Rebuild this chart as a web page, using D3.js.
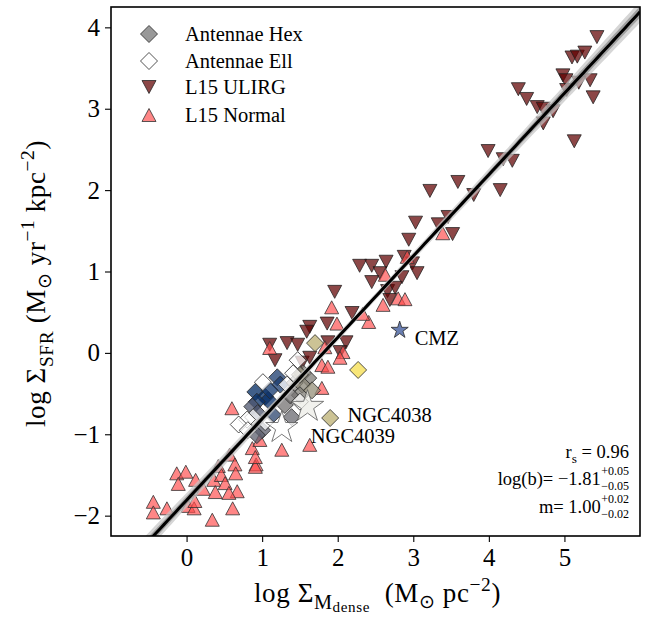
<!DOCTYPE html>
<html>
<head>
<meta charset="utf-8">
<script src="https://cdn.jsdelivr.net/npm/d3@7"></script>
<style>
  body { margin: 0; background: #fff; }
  svg { display: block; }
  text { font-family: "Liberation Serif", "Times New Roman", serif; fill: #000; white-space: pre; }
</style>
</head>
<body>
<svg id="chart" width="657" height="618"></svg>
<script>
// ---- data: [log Σ_Mdense, log Σ_SFR] ----
const ulirg = [
  [5.43,3.88],[5.10,3.63],[5.17,3.64],[5.27,3.69],[4.98,3.41],[5.02,3.35],[5.19,3.32],[5.34,3.35],
  [5.03,3.23],[5.38,3.14],[4.39,3.24],[4.50,3.12],[4.64,3.02],[4.72,3.00],[4.85,2.97],[4.72,2.82],
  [5.13,2.60],[3.99,2.48],[4.19,2.38],[4.31,2.36],[3.59,2.10],[3.22,1.99],[3.80,1.94],[4.15,2.00],
  [3.03,1.60],[3.33,1.58],[3.46,1.67],[3.52,1.46],[2.94,1.39],[2.29,1.07],[2.45,1.07],[2.64,1.12],
  [2.88,1.18],[2.99,1.10],[3.05,0.98],[2.56,0.98],[2.45,0.87],[2.85,0.93],[2.66,0.76],[2.76,0.80],
  [2.69,0.65],[1.96,0.75],[2.19,0.49],[1.86,0.36],[1.63,0.32],[1.59,0.26],[1.87,0.13],[2.11,0.13],
  [2.03,0.01],[1.10,0.10],[1.33,0.12],[1.47,0.10],[1.17,-0.09],[1.53,-0.12],[1.63,-0.06]
];
const normal = [
  [-0.13,-1.48],[-0.01,-1.46],[-0.11,-1.61],[0.12,-1.56],[-0.44,-1.83],[-0.44,-1.96],[-0.26,-1.91],
  [0.02,-1.88],[0.10,-1.91],[0.11,-1.82],[0.22,-1.67],[0.34,-2.05],[0.36,-1.56],[0.42,-1.39],
  [0.46,-1.50],[0.51,-1.60],[0.38,-1.71],[0.57,-1.25],[0.64,-1.37],[0.65,-1.48],[0.67,-1.70],
  [0.56,-1.72],[0.61,-1.91],[0.87,-1.17],[0.92,-1.37],[0.91,-1.40],[1.26,-1.19],[0.97,-1.07],
  [0.91,-1.28],[1.63,-1.13],[0.60,-0.68],[1.79,-0.43],[1.10,0.06],[1.83,0.07],[2.07,0.01],
  [2.03,-0.06],[1.79,-0.15],[1.87,-0.17],[1.99,0.36],[2.41,0.38],[2.33,0.48],[1.92,0.56],
  [2.60,0.59],[2.80,0.67],[2.89,0.66],[2.63,0.96],[2.92,1.18],[3.39,1.47]
];
// Antennae hexagonal apertures: [x, y, colour value]
const antHex = [
  [0.91,-0.48,0.05],[1.04,-0.54,0.05],[1.08,-0.58,0.08],[0.93,-0.60,0.10],[1.20,-0.30,0.15],
  [1.24,-0.39,0.15],[1.14,-0.76,0.20],[1.10,-0.46,0.12],[0.87,-0.66,0.30],[0.94,-0.74,0.30],
  [1.00,-0.95,0.35],[0.93,-1.01,0.35],[1.43,-0.37,0.50],[1.54,-0.25,0.50],[1.61,-0.31,0.50],
  [1.53,-0.39,0.55],[1.50,-0.52,0.50],[1.39,-0.79,0.40],[1.30,-0.64,0.45],[1.66,-0.46,0.60],
  [1.37,-0.52,0.45],[1.50,-0.27,0.60],[1.70,0.12,0.75],[1.90,-0.80,0.75],[2.27,-0.21,0.95]
];
const antEll = [
  [1.47,-0.09],[1.01,-0.36],[0.88,-0.79],[0.80,-0.82],[0.69,-0.88],
  [0.81,-0.95],[1.04,-0.85],[1.50,-0.60],[1.33,-0.39],[1.41,-0.25]
];
const starNames = ["CMZ", "NGC4038", "NGC4039"];
const starX = [2.82, 1.60, 1.26];
const starY = [0.28, -0.66, -0.92];

const fitSlope = 1.00, fitSlopeErr = 0.02;
const fitIntercept = -1.81, fitInterceptErr = 0.05;
const spearman = 0.96;

const xTicks = [0, 1, 2, 3, 4, 5];
const yTicks = [-2, -1, 0, 1, 2, 3, 4];
const legendLabels = ["Antennae Hex", "Antennae Ell", "L15 ULIRG", "L15 Normal"];

// ---- layout ----
const svg = d3.select("#chart");
const L = 111, R = 640, T = 7, B = 536;
const x = d3.scaleLinear().domain([-1, 6]).range([L, R]);
const y = d3.scaleLinear().domain([-2.25, 4.25]).range([B, T]);

svg.append("defs").append("clipPath").attr("id", "plotclip")
  .append("rect").attr("x", L).attr("y", T).attr("width", R - L).attr("height", B - T);
const plot = svg.append("g").attr("clip-path", "url(#plotclip)");

// marker paths
const tri = (w, h, up) => up
  ? `M0,${-h/2}L${w/2},${h/2}L${-w/2},${h/2}Z`
  : `M0,${h/2}L${w/2},${-h/2}L${-w/2},${-h/2}Z`;
const diamond = r => `M0,${-r}L${r},0L0,${r}L${-r},0Z`;
function star(Ro) {
  const ri = Ro * 0.382, pts = [];
  for (let i = 0; i < 10; i++) {
    const a = -Math.PI / 2 + i * Math.PI / 5, rr = i % 2 ? ri : Ro;
    pts.push([rr * Math.cos(a), rr * Math.sin(a)]);
  }
  return "M" + pts.map(p => p[0].toFixed(2) + "," + p[1].toFixed(2)).join("L") + "Z";
}

const ulirgStyle = { fill: "rgb(95,0,0)", fo: 0.72, stroke: "rgba(30,30,30,0.75)" };
const normalStyle = { fill: "rgb(255,77,77)", fo: 0.68, stroke: "rgba(50,50,50,0.8)" };

// L15 ULIRGs
plot.append("g").selectAll("path").data(ulirg).join("path")
  .attr("d", tri(14, 13, false))
  .attr("transform", d => `translate(${x(d[0])},${y(d[1])})`)
  .attr("fill", ulirgStyle.fill).attr("fill-opacity", ulirgStyle.fo)
  .attr("stroke", ulirgStyle.stroke).attr("stroke-width", 1);

// L15 normal galaxies
plot.append("g").selectAll("path").data(normal).join("path")
  .attr("d", tri(14, 13, true))
  .attr("transform", d => `translate(${x(d[0])},${y(d[1])})`)
  .attr("fill", normalStyle.fill).attr("fill-opacity", normalStyle.fo)
  .attr("stroke", normalStyle.stroke).attr("stroke-width", 1);

// Antennae apertures
plot.append("g").selectAll("path").data(antHex).join("path")
  .attr("d", diamond(8.5))
  .attr("transform", d => `translate(${x(d[0])},${y(d[1])})`)
  .attr("fill", d => d3.interpolateCividis(d[2])).attr("fill-opacity", 0.75)
  .attr("stroke", "rgba(40,40,40,0.8)").attr("stroke-width", 1);
plot.append("g").selectAll("path").data(antEll).join("path")
  .attr("d", diamond(8.5))
  .attr("transform", d => `translate(${x(d[0])},${y(d[1])})`)
  .attr("fill", "#fff").attr("fill-opacity", 0.75)
  .attr("stroke", "rgba(40,40,40,0.8)").attr("stroke-width", 1);

// named regions
const starSize = [9, 17, 17];
const starFill = ["rgb(80,105,165)", "rgb(235,235,230)", "#fff"];
const starFO = [0.85, 0.7, 0.75];
const starLabelDx = [15, 40, 29];
starNames.forEach((n, i) => {
  plot.append("path").attr("d", star(starSize[i]))
    .attr("transform", `translate(${x(starX[i])},${y(starY[i])})`)
    .attr("fill", starFill[i]).attr("fill-opacity", starFO[i])
    .attr("stroke", i === 0 ? "rgba(40,40,40,0.8)" : "rgba(90,90,90,0.8)").attr("stroke-width", 1);
  svg.append("text").attr("x", x(starX[i]) + starLabelDx[i]).attr("y", y(starY[i]) + 15)
    .attr("font-size", 20.5).text(n);
});

// fit with uncertainty band
const xMean = d3.mean(ulirg.concat(normal), d => d[0]);
const sig = xv => Math.hypot(fitSlopeErr * (xv - xMean), fitInterceptErr / 2);
const xs = d3.range(-1, 6.05, 0.05);
const fitY = xv => fitSlope * xv + fitIntercept;
const band = k => d3.area().x(d => x(d)).y0(d => y(fitY(d) - k * sig(d))).y1(d => y(fitY(d) + k * sig(d)));
plot.append("path").datum(xs).attr("d", band(1.7)).attr("fill", "#c4c4c4").attr("fill-opacity", 0.7);
plot.append("path").datum(xs).attr("d", band(0.9)).attr("fill", "#8a8a8a").attr("fill-opacity", 0.7);
plot.append("path").datum(xs)
  .attr("d", d3.line().x(d => x(d)).y(d => y(fitY(d))))
  .attr("fill", "none").attr("stroke", "#000").attr("stroke-width", 3);

// frame and axes
svg.append("rect").attr("x", L).attr("y", T).attr("width", R - L).attr("height", B - T)
  .attr("fill", "none").attr("stroke", "#000").attr("stroke-width", 1.6);

const xAxis = svg.append("g").attr("transform", `translate(0,${B})`)
  .call(d3.axisBottom(x).tickValues(xTicks).tickSize(6).tickPadding(6).tickFormat(d3.format("d")));
const yAxis = svg.append("g").attr("transform", `translate(${L},0)`)
  .call(d3.axisLeft(y).tickValues(yTicks).tickSize(6).tickPadding(5).tickFormat(d3.format("d")));
[xAxis, yAxis].forEach(g => {
  g.select(".domain").remove();
  g.selectAll(".tick line").attr("stroke", "#000").attr("stroke-width", 1.1);
  g.selectAll(".tick text").attr("font-family", "Liberation Serif, serif").attr("font-size", 25).attr("fill", "#000");
});

// rich text helper: parts = [string, baseline offset in em, scale]
function rich(sel, parts, size) {
  let cur = 0;
  parts.forEach(([s, off, sc]) => {
    sel.append("tspan").attr("dy", (off - cur) * size).attr("font-size", size * sc).text(s);
    cur = off;
  });
  return sel;
}

const labSize = 27;
rich(svg.append("text").attr("text-anchor", "middle").attr("letter-spacing", 0.6)
  .attr("transform", `translate(45,${(T + B) / 2 + 12}) rotate(-90)`),
  [["log ", 0, 1], ["Σ", 0, 1], ["SFR", 0.28, 0.72], [" (M", 0, 1], ["⊙", 0.22, 0.72], [" yr", 0, 1],
   ["−1", -0.42, 0.72], [" kpc", 0, 1], ["−2", -0.42, 0.72], [")", 0, 1]], labSize);

rich(svg.append("text").attr("text-anchor", "middle").attr("letter-spacing", 0.6)
  .attr("x", (L + R) / 2 + 2).attr("y", 602),
  [["log ", 0, 1], ["Σ", 0, 1], ["M", 0.25, 0.75], ["dense", 0.38, 0.56], ["  (M", 0, 1], ["⊙", 0.22, 0.72],
   [" pc", 0, 1], ["−2", -0.42, 0.72], [")", 0, 1]], labSize);

// legend
const legG = svg.append("g");
const legY = [34, 61, 87, 115];
const legShapes = [
  { d: diamond(8.5), fill: "#808080", fo: 0.8, stroke: "rgba(40,40,40,0.8)" },
  { d: diamond(8.5), fill: "#fff", fo: 1, stroke: "rgba(40,40,40,0.8)" },
  { d: tri(14, 13, false), fill: ulirgStyle.fill, fo: ulirgStyle.fo, stroke: ulirgStyle.stroke },
  { d: tri(14, 13, true), fill: normalStyle.fill, fo: normalStyle.fo, stroke: normalStyle.stroke }
];
legendLabels.forEach((lab, i) => {
  const s = legShapes[i];
  legG.append("path").attr("d", s.d).attr("transform", `translate(149,${legY[i]})`)
    .attr("fill", s.fill).attr("fill-opacity", s.fo).attr("stroke", s.stroke).attr("stroke-width", 1);
  legG.append("text").attr("x", 185).attr("y", legY[i] + 7).attr("font-size", 20.5).text(lab);
});

// fit statistics
const fmt2 = d3.format(".2f");
const statSize = 18.5, supSize = 12, right = 629;
rich(svg.append("text").attr("text-anchor", "end").attr("x", right).attr("y", 458),
  [["r", 0, 1], ["s", 0.25, 0.72], [" = " + fmt2(spearman), 0, 1]], statSize);

function statRow(mainStr, errStr, yb) {
  const sup = svg.append("text").attr("x", 0).attr("y", yb - 10).attr("font-size", supSize).text("+" + errStr);
  const sub = svg.append("text").attr("x", 0).attr("y", yb + 5).attr("font-size", supSize).text("−" + errStr);
  const w = Math.max(sup.node().getComputedTextLength(), sub.node().getComputedTextLength());
  sup.attr("x", right - w); sub.attr("x", right - w);
  svg.append("text").attr("text-anchor", "end").attr("x", right - w - 0.5).attr("y", yb)
    .attr("font-size", statSize).text(mainStr);
}
statRow("log(b)= " + fmt2(fitIntercept).replace("-", "−"), fmt2(fitInterceptErr), 485);
statRow("m= " + fmt2(fitSlope), fmt2(fitSlopeErr), 513);
</script>
</body>
</html>
